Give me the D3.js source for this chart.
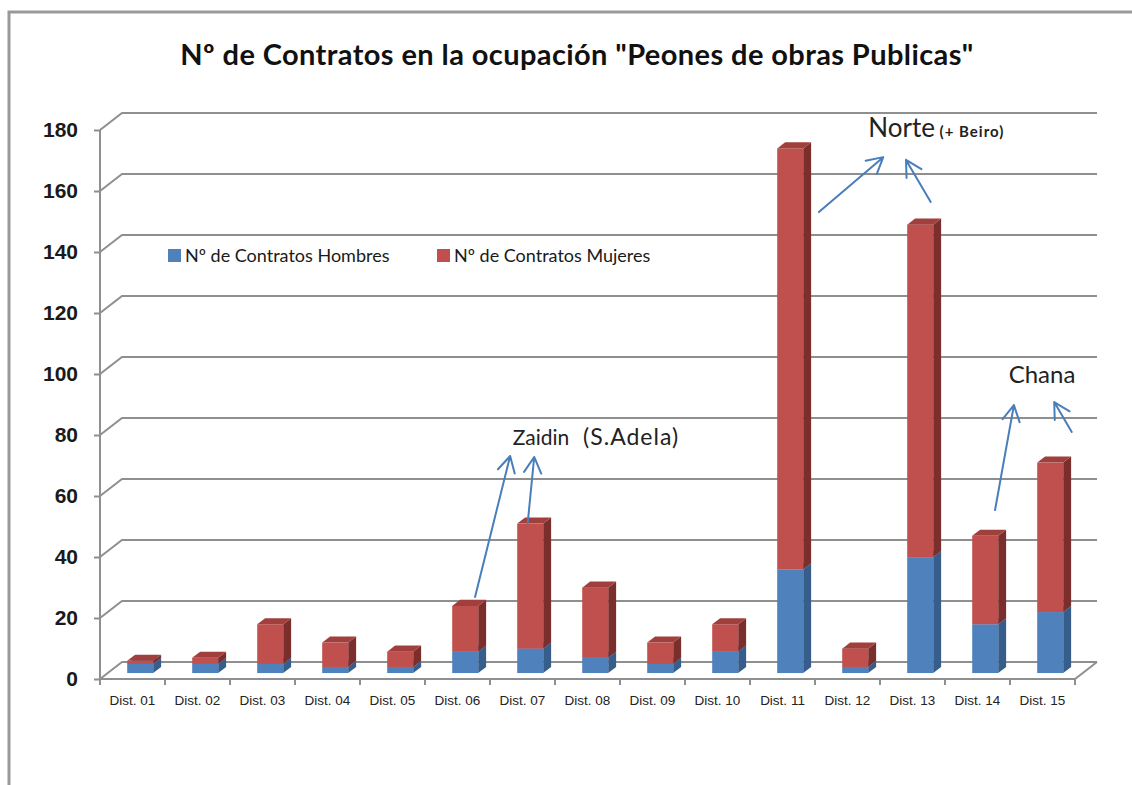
<!DOCTYPE html>
<meta charset="utf-8">
<style>
body { margin: 0; background: #fff; }
svg { font-family: Lato, "Open Sans", sans-serif; }
.axis--y path { display: none; }
.axis--y text { font-size: 21px; font-weight: bold; fill: #1a1a1a; }
.axis--x path { display: none; }
.axis--x text { font-size: 13.5px; fill: #222; }
.grid { stroke: #8f8f8f; stroke-width: 2; fill: none; }
.note { white-space: pre; }
</style>
<svg width="1132" height="785"></svg>
<script src="https://d3js.org/d3.v7.min.js"></script>
<script>

var categories = ["Dist. 01", "Dist. 02", "Dist. 03", "Dist. 04", "Dist. 05",
                  "Dist. 06", "Dist. 07", "Dist. 08", "Dist. 09", "Dist. 10",
                  "Dist. 11", "Dist. 12", "Dist. 13", "Dist. 14", "Dist. 15"];
var hombres = [3, 3, 3, 2, 2, 7, 8, 5, 3, 7, 34, 2, 38, 16, 20];
var mujeres = [1, 2, 13, 8, 5, 15, 41, 23, 7, 9, 138, 6, 109, 29, 49];
var seriesNames = ["Nº de Contratos Hombres", "Nº de Contratos Mujeres"];
var yTicks = [0, 20, 40, 60, 80, 100, 120, 140, 160, 180];
var title = "Nº de Contratos en la ocupación \"Peones de obras Publicas\"";

var svg = d3.select("svg"),
    plot = {left: 100, right: 1075, bottom: 679, top: 130},
    depth = {dx: 22, dy: -17};   // 3d depth of the floor

var colors = {
  front: ["#4f81bd", "#c0504d"],
  side:  ["#375d8b", "#7a2f2d"],
  top:   ["#5b8cc8", "#a13f3c"]
};

var xCat = d3.scaleBand().domain(categories).range([plot.left, plot.right]).padding(0);
var xBar = d3.scaleBand().domain(categories).range([plot.left, plot.right])
    .paddingInner(0.6).paddingOuter(0.3);
var xIdx = d3.scaleLinear().domain([0, categories.length]).range([plot.left, plot.right]);
var y = d3.scaleLinear().domain([0, 180]).range([plot.bottom, plot.top]);

// frame
svg.append("path")
    .attr("d", "M9,785V12H1132")
    .attr("fill", "none")
    .attr("stroke", "#9a9a9a")
    .attr("stroke-width", 3);

// title
svg.append("text")
    .attr("x", 577)
    .attr("y", 65)
    .attr("text-anchor", "middle")
    .attr("font-size", 29)
    .attr("letter-spacing", 0.4)
    .attr("font-weight", "bold")
    .attr("fill", "#111")
    .text(title);

// back wall grid lines + left wall diagonals
var grid = svg.append("g");
yTicks.forEach(function(t) {
  grid.append("path").attr("class", "grid")
    .attr("d", "M" + plot.left + "," + y(t) + "L" + (plot.left + depth.dx) + "," + (y(t) + depth.dy) +
               "H" + (plot.right + depth.dx));
});
// floor front + right edge
grid.append("path").attr("class", "grid")
    .attr("d", "M" + plot.left + "," + plot.bottom + "H" + plot.right +
               "L" + (plot.right + depth.dx) + "," + (plot.bottom + depth.dy));
// front value axis line
grid.append("path").attr("class", "grid")
    .attr("d", "M" + plot.left + "," + y(180) + "V" + plot.bottom);
// category ticks at band edges
categories.concat([null]).forEach(function(c) {
  var xx = c ? xCat(c) : plot.right;
  grid.append("path").attr("class", "grid")
    .attr("d", "M" + xx + "," + plot.bottom + "v6");
});

svg.append("g")
    .attr("class", "axis axis--y")
    .attr("transform", "translate(" + plot.left + ",0)")
    .call(d3.axisLeft(y).tickValues(yTicks).tickSize(6).tickPadding(16).tickSizeOuter(0))
    .selectAll("line").attr("stroke", "#8f8f8f").attr("stroke-width", 2);

svg.append("g")
    .attr("class", "axis axis--x")
    .attr("transform", "translate(0," + plot.bottom + ")")
    .call(d3.axisBottom(xCat).tickSize(0).tickPadding(16));

// stacked 3d bars
var f0 = 0.35, f1 = 0.71;   // bar spans this fraction of the depth
var ox = depth.dx * f0, oy = depth.dy * f0,
    bx = depth.dx * (f1 - f0), by = depth.dy * (f1 - f0);

var stacked = categories.map(function(c, i) {
  return [{cat: c, s: 0, y0: 0, y1: hombres[i]},
          {cat: c, s: 1, y0: hombres[i], y1: hombres[i] + mujeres[i]}];
});

var bars = svg.append("g");
stacked.forEach(function(segs) {
  segs.forEach(function(d) {
    var x0 = xBar(d.cat) + ox, x1 = x0 + xBar.bandwidth(),
        ya = y(d.y0) + oy, yb = y(d.y1) + oy;
    var g = bars.append("g");
    g.append("path").attr("fill", colors.side[d.s])
      .attr("d", "M" + x1 + "," + ya + "L" + (x1 + bx) + "," + (ya + by) +
                 "L" + (x1 + bx) + "," + (yb + by) + "L" + x1 + "," + yb + "Z");
    g.append("rect").attr("fill", colors.front[d.s])
      .attr("x", x0).attr("y", yb).attr("width", x1 - x0).attr("height", ya - yb);
    g.append("path").attr("fill", colors.top[d.s])
      .attr("d", "M" + x0 + "," + yb + "L" + x1 + "," + yb +
                 "L" + (x1 + bx) + "," + (yb + by) + "L" + (x0 + bx) + "," + (yb + by) + "Z");
  });
});

// legend
var legend = svg.append("g").attr("font-size", 18).attr("fill", "#1a1a1a");
[168, 437].forEach(function(lx, i) {
  legend.append("rect").attr("x", lx).attr("y", 249).attr("width", 13).attr("height", 13)
    .attr("fill", colors.front[i]);
  legend.append("text").attr("x", lx + 17).attr("y", 262).text(seriesNames[i]);
});

// hand-drawn notes (category index, value)
var notes = [
  {parts: [["Zaidin", 21, "normal", 0], ["  (S.Adela)", 23, "normal", 1]], at: [6.35, 76.7],
   arrows: [[[5.77, 26.9], [6.31, 73.1]], [[6.58, 51.1], [6.68, 72.8]]]},
  {parts: [["Norte", 26, "normal", 0], [" (+ Beiro)", 15, "bold", 1]], at: [11.82, 177.7],
   arrows: [[[11.06, 153.1], [12.05, 171.1]], [[12.78, 156.4], [12.40, 170.2]]]},
  {parts: [["Chana", 24, "normal", 0]], at: [13.98, 97.0],
   arrows: [[[13.77, 55.4], [14.06, 89.8]], [[14.95, 81.0], [14.68, 90.8]]]}
];

var ann = svg.append("g");
notes.forEach(function(n) {
  var t = ann.append("text").attr("class", "note")
      .attr("x", xIdx(n.at[0])).attr("y", y(n.at[1])).attr("fill", "#222");
  n.parts.forEach(function(p) {
    t.append("tspan").attr("font-size", p[1]).attr("font-weight", p[2])
      .attr("letter-spacing", p[3]).text(p[0]);
  });
  n.arrows.forEach(function(a) {
    var p0 = [xIdx(a[0][0]), y(a[0][1])], p1 = [xIdx(a[1][0]), y(a[1][1])];
    var ang = Math.atan2(p1[1] - p0[1], p1[0] - p0[0]), L = 18, w = 0.5;
    var h1 = [p1[0] - L * Math.cos(ang - w), p1[1] - L * Math.sin(ang - w)],
        h2 = [p1[0] - L * Math.cos(ang + w), p1[1] - L * Math.sin(ang + w)];
    ann.append("path")
      .attr("d", "M" + p0 + "L" + p1 + "M" + h1 + "L" + p1 + "L" + h2)
      .attr("fill", "none").attr("stroke", "#4a7ebb").attr("stroke-width", 2)
      .attr("stroke-linecap", "round").attr("stroke-linejoin", "round");
  });
});

</script>
